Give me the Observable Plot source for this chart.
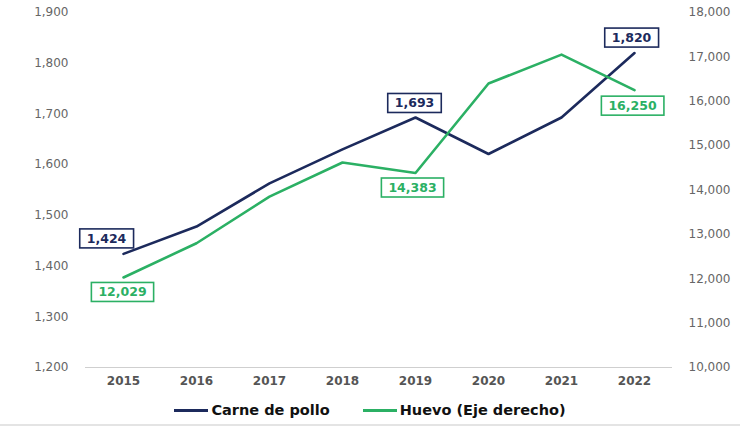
<!DOCTYPE html>
<html>
<head>
<meta charset="utf-8">
<script src="https://cdn.jsdelivr.net/npm/d3@7"></script>
<script src="https://cdn.jsdelivr.net/npm/@observablehq/plot@0.6"></script>
<style>
  body { margin: 0; background: #fff; font-family: "DejaVu Sans", sans-serif; }
  #wrap { width: 740px; height: 429px; position: relative; overflow: hidden; }
  #legend { position: absolute; left: 0; top: 400px; width: 740px; height: 20px;
            display: flex; justify-content: center; align-items: center; gap: 33px;
            font-weight: bold; font-size: 14.5px; color: #111; }
  .item { display: flex; align-items: center; }
  .sw { width: 34px; height: 3px; margin-right: 3px; }
  #bottomline { position: absolute; left: 0; top: 424px; width: 740px; height: 2px; background: #e4e4e4; }
</style>
</head>
<body>
<div id="wrap">
  <div id="chart"></div>
  <div id="legend"></div>
  <div id="bottomline"></div>
</div>
<script>
const years = [2015, 2016, 2017, 2018, 2019, 2020, 2021, 2022];
const pollo = [1424, 1478, 1563, 1630, 1693, 1621, 1693, 1820];
const huevo = [12029, 12800, 13850, 14620, 14383, 16400, 17050, 16250];
const leftTicks = [1200, 1300, 1400, 1500, 1600, 1700, 1800, 1900];
const rightTicks = [10000, 11000, 12000, 13000, 14000, 15000, 16000, 17000, 18000];
const seriesNames = ["Carne de pollo", "Huevo (Eje derecho)"];
const labelYears = [2015, 2019, 2022];

const navy = "#1c2a5c";
const green = "#2bb064";
const fmt = d3.format(",");
const toLeft = d3.scaleLinear([10000, 18000], [1200, 1900]);
const toRight = toLeft.invert;

const rowsP = years.map((year, i) => ({year, v: pollo[i], label: fmt(pollo[i])}));
const rowsH = years.map((year, i) => ({year, v: toLeft(huevo[i]), label: fmt(huevo[i])}));

const offP = {2015: [-17, -15], 2019: [-1, -14], 2022: [-3, -15]};
const offH = {2015: [-1, 15], 2019: [-3, 15], 2022: [-2, 16]};

const labelMarks = [];
labelYears.forEach(y => {
  labelMarks.push(Plot.text(rowsP.filter(r => r.year === y), {
    x: "year", y: "v", text: "label", dx: offP[y][0], dy: offP[y][1],
    fill: navy, fontWeight: "bold", fontSize: 12.5
  }));
  labelMarks.push(Plot.text(rowsH.filter(r => r.year === y), {
    x: "year", y: "v", text: "label", dx: offH[y][0], dy: offH[y][1],
    fill: green, fontWeight: "bold", fontSize: 12.5
  }));
});

const chart = Plot.plot({
  width: 740,
  height: 392,
  marginTop: 12,
  marginBottom: 25,
  marginLeft: 85,
  marginRight: 68,
  style: {fontFamily: "DejaVu Sans, sans-serif", fontSize: "12px", color: "#5a5a5a", background: "#fff"},
  x: {type: "point", domain: years, padding: 0.5},
  y: {domain: [1200, 1900]},
  marks: [
    Plot.ruleY([1200], {stroke: "#cfcfcf", strokeWidth: 1.2}),
    Plot.axisX({tickSize: 0, tickPadding: 9, tickFormat: d => String(d), label: null, fontWeight: "bold", fill: "#555"}),
    Plot.axisY({anchor: "left", ticks: leftTicks, tickSize: 0, tickPadding: 17, tickFormat: fmt, label: null, fill: "#666"}),
    Plot.axisY({anchor: "right", ticks: rightTicks.map(toLeft), tickSize: 0, tickPadding: 16,
                tickFormat: d => fmt(Math.round(toRight(d))), label: null, fill: "#666"}),
    Plot.line(rowsP, {x: "year", y: "v", stroke: navy, strokeWidth: 2.6}),
    Plot.line(rowsH, {x: "year", y: "v", stroke: green, strokeWidth: 2.6}),
    ...labelMarks
  ]
});

document.getElementById("chart").appendChild(chart);

// boxes behind value labels
const svgNS = "http://www.w3.org/2000/svg";
chart.querySelectorAll("g[aria-label='text']").forEach(g => {
  const col = g.getAttribute("fill") || navy;
  g.querySelectorAll("text").forEach(t => {
    const b = t.getBBox();
    const r = document.createElementNS(svgNS, "rect");
    r.setAttribute("x", b.x - 7);
    r.setAttribute("y", b.y - 2);
    r.setAttribute("width", b.width + 14);
    r.setAttribute("height", b.height + 4);
    r.setAttribute("fill", "#fff");
    r.setAttribute("stroke", col);
    r.setAttribute("stroke-width", 1.6);
    if (t.getAttribute("transform")) r.setAttribute("transform", t.getAttribute("transform"));
    t.parentNode.insertBefore(r, t);
  });
});

const legend = document.getElementById("legend");
[[seriesNames[0], navy], [seriesNames[1], green]].forEach(([name, col]) => {
  const it = document.createElement("div");
  it.className = "item";
  const sw = document.createElement("div");
  sw.className = "sw";
  sw.style.background = col;
  const tx = document.createElement("span");
  tx.textContent = name;
  it.appendChild(sw);
  it.appendChild(tx);
  legend.appendChild(it);
});
</script>
</body>
</html>
